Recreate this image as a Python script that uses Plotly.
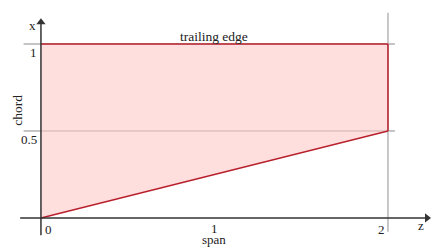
import plotly.graph_objects as go

# data
span = [0, 2]
leading_edge = [0, 0.5]
trailing_edge = [1, 1]
x_ticks = [0, 1, 2]
x_tick_labels = ["0", "1", "2"]
y_ticks = [0.5, 1]
y_tick_labels = ["0.5", "1"]

RED = "#b8202c"
FILL = "rgba(255,200,200,0.6)"
AX = "#333333"
GRID = "#8a8a8a"
FONT = "Liberation Serif"

fig = go.Figure()
fig.add_trace(go.Scatter(
    x=span + span[::-1] + [span[0]],
    y=leading_edge + trailing_edge[::-1] + [leading_edge[0]],
    mode="lines", fill="toself", fillcolor=FILL,
    line=dict(width=0), hoverinfo="skip", showlegend=False))

shapes = []
for yv in y_ticks:
    shapes.append(dict(type="line", xref="x", yref="y", x0=-0.1, x1=2.04,
                       y0=yv, y1=yv, line=dict(color=GRID, width=1), layer="below"))
shapes.append(dict(type="line", xref="x", yref="y", x0=2, x1=2, y0=-0.08, y1=1.18,
                   line=dict(color="#b5b5b5", width=1.5), layer="below"))
shapes.append(dict(type="line", xref="x", yref="y", x0=-0.12, x1=2.22, y0=0, y1=0,
                   line=dict(color=AX, width=1.5)))
shapes.append(dict(type="line", xref="x", yref="y", x0=0, x1=0, y0=-0.1, y1=1.12,
                   line=dict(color=AX, width=1.5)))
fig.update_layout(shapes=shapes)

fig.add_trace(go.Scatter(x=span, y=leading_edge, mode="lines",
                         line=dict(color=RED, width=1.5), hoverinfo="skip", showlegend=False))
fig.add_trace(go.Scatter(x=span, y=trailing_edge, mode="lines",
                         line=dict(color=RED, width=1.5), hoverinfo="skip", showlegend=False))
fig.add_trace(go.Scatter(x=[span[1], span[1]], y=[leading_edge[1], trailing_edge[1]], mode="lines",
                         line=dict(color=RED, width=1.5), hoverinfo="skip", showlegend=False))

# axis arrowheads
fig.add_trace(go.Scatter(x=[2.225], y=[0], mode="markers", cliponaxis=False,
                         marker=dict(symbol="triangle-right", size=8, color=AX),
                         hoverinfo="skip", showlegend=False))
fig.add_trace(go.Scatter(x=[0], y=[1.125], mode="markers", cliponaxis=False,
                         marker=dict(symbol="triangle-up", size=8, color=AX),
                         hoverinfo="skip", showlegend=False))

f = dict(family=FONT, size=13, color="#222")
f2 = dict(family=FONT, size=13.5, color="#222")

ann = []
for v, t in zip(x_ticks, x_tick_labels):
    if v == 0:
        ann.append(dict(x=v, y=0, xref="x", yref="y", text=t, showarrow=False,
                        xanchor="left", yanchor="top", xshift=2, yshift=-2, font=f))
    elif v == 2:
        ann.append(dict(x=v, y=0, xref="x", yref="y", text=t, showarrow=False,
                        xanchor="right", yanchor="top", xshift=-1, yshift=-2, font=f))
    else:
        ann.append(dict(x=v, y=0, xref="x", yref="y", text=t, showarrow=False,
                        xanchor="center", yanchor="top", yshift=-1, font=f))
for v, t in zip(y_ticks, y_tick_labels):
    ann.append(dict(x=0, y=v, xref="x", yref="y", text=t, showarrow=False,
                    xanchor="right", yanchor="top", xshift=-2, yshift=1, font=f))
ann.append(dict(x=2.19, y=0, xref="x", yref="y", text="z", showarrow=False,
                xanchor="center", yanchor="middle", yshift=-8, font=f))
ann.append(dict(x=0, y=1.12, xref="x", yref="y", text="x", showarrow=False,
                xanchor="right", yanchor="middle", xshift=-3, yshift=-2, font=f))
ann.append(dict(x=1, y=0, xref="x", yref="y", text="span", showarrow=False,
                xanchor="center", yanchor="middle", yshift=-22, font=f))
ann.append(dict(x=-0.14, y=0.62, xref="x", yref="y", text="chord", showarrow=False,
                textangle=-90, xanchor="center", yanchor="middle", font=f2))
ann.append(dict(x=1, y=1, xref="x", yref="y", text="trailing edge", showarrow=False,
                xanchor="center", yanchor="bottom", yshift=-2, font=f2))
fig.update_layout(annotations=ann)

# z=0 at 41px, z=2 at 388px; chord 0 at 218px, 1 at 44px (window pixels)
fig.update_layout(
    width=431, height=247, margin=dict(l=0, r=0, t=0, b=0),
    paper_bgcolor="white", plot_bgcolor="white",
    xaxis=dict(range=[-0.236, 2.248], visible=False, fixedrange=True),
    yaxis=dict(range=[-0.167, 1.253], visible=False, fixedrange=True),
)
fig.write_html("out.html", config={"displayModeBar": False, "staticPlot": True},
               post_script="document.body.style.margin='0';"
                           "document.documentElement.style.overflow='hidden';"
                           "document.body.style.overflow='hidden';")
